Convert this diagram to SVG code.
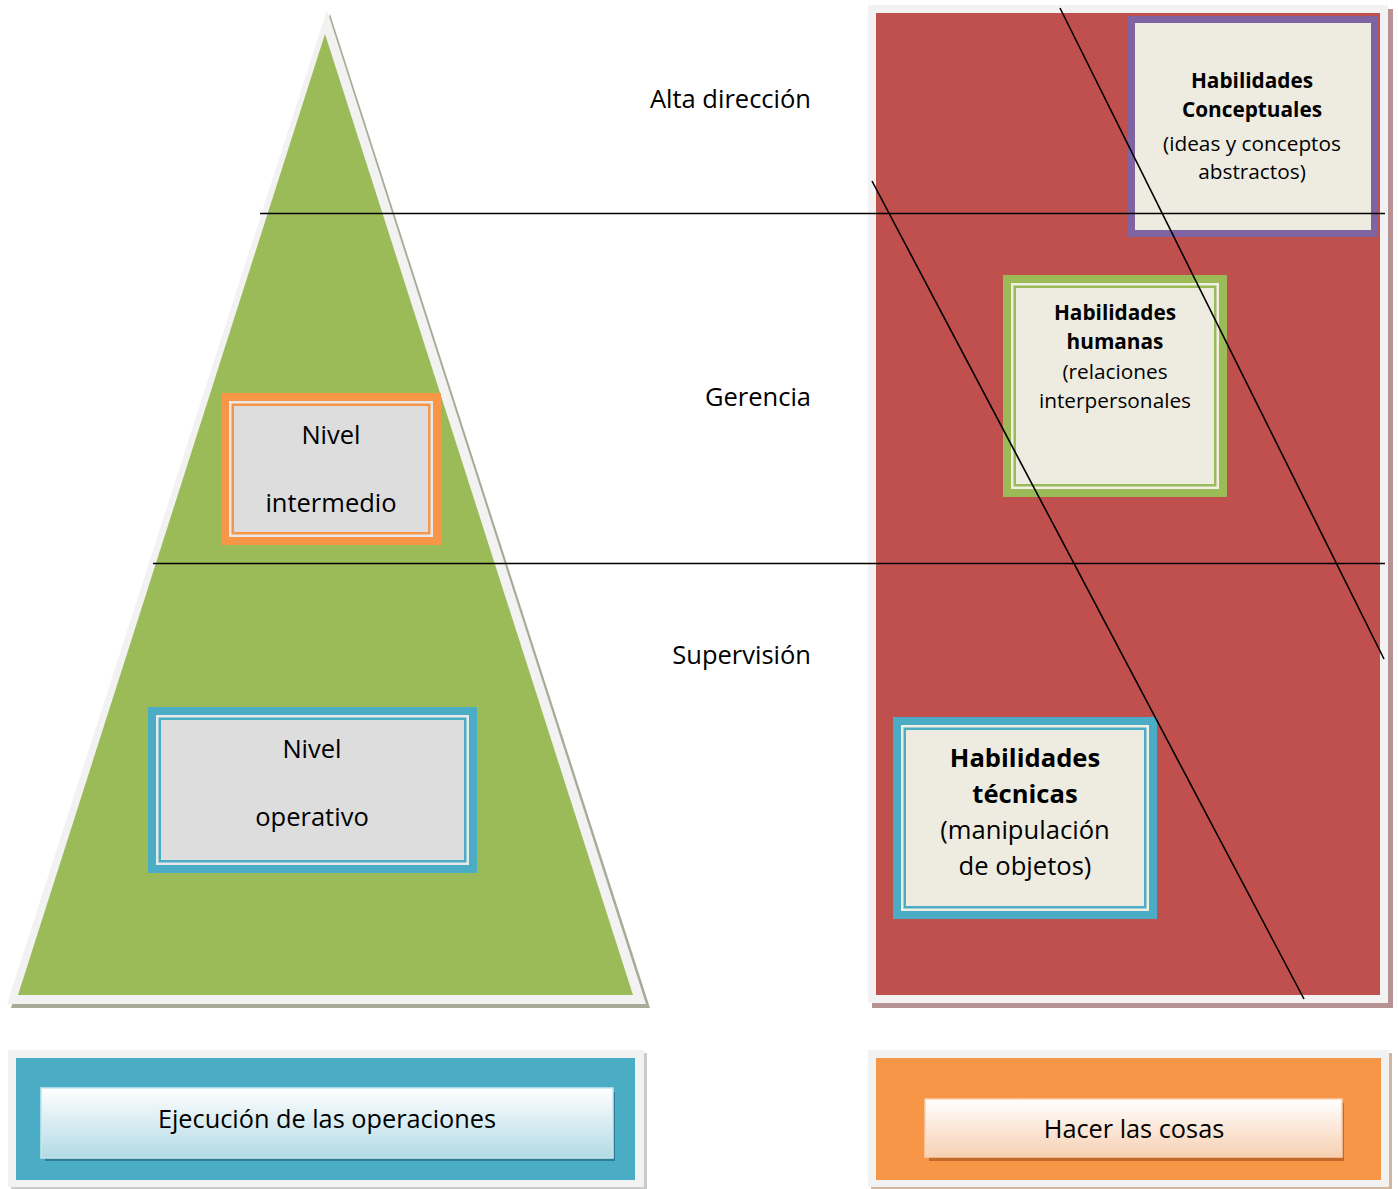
<svg xmlns="http://www.w3.org/2000/svg" width="1398" height="1189" viewBox="0 0 1398 1189">
  <defs>
    <style>
      text { font-family: "Open Sans", "Liberation Sans", sans-serif; fill: #000; text-anchor: middle; }
      .level { font-size: 25.5px; text-anchor: end; }
      .lvl-box { font-size: 25.5px; }
      .skill-sm { font-size: 20.8px; }
      .skill-lg { font-size: 25.6px; }
      .bold { font-weight: bold; }
      .bar-label { font-size: 25.3px; }
      .rule { stroke: #000; stroke-width: 1.6; fill: none; }
    </style>
    <linearGradient id="barBlue" x1="0" y1="0" x2="0" y2="1">
      <stop offset="0" stop-color="#ffffff"/>
      <stop offset="1" stop-color="#b2dae5"/>
    </linearGradient>
    <linearGradient id="barOrange" x1="0" y1="0" x2="0" y2="1">
      <stop offset="0" stop-color="#ffffff"/>
      <stop offset="1" stop-color="#f7d0b2"/>
    </linearGradient>
  </defs>

  <rect width="1398" height="1189" fill="#ffffff"/>

  <!-- pyramid of levels -->
  <g id="pyramid">
    <polygon points="11,1008 650,1008 330,14" fill="#a7ab98"/>
    <polygon points="7,1004 646,1004 327,10" fill="#f2f2f2"/>
    <polygon points="18,995 633,995 325,34" fill="#9bbb59"/>
  </g>

  <!-- skills panel -->
  <g id="skills-panel">
    <rect x="872" y="9" width="521" height="999" fill="#b79292"/>
    <rect x="868" y="5" width="520" height="998" fill="#f2f2f2"/>
    <rect x="876" y="13" width="504" height="982" fill="#c0504d"/>
  </g>

  <!-- level boxes inside the pyramid -->
  <g id="nivel-intermedio">
    <rect x="221" y="393" width="220" height="152" fill="#f79646"/>
    <rect x="229" y="401" width="204" height="136" fill="#e8e8e8"/>
    <rect x="231.5" y="403.5" width="199" height="131" fill="#f79646"/>
    <rect x="234" y="406" width="194" height="126" fill="#dddddd"/>
    <text class="lvl-box" x="331" y="444">Nivel</text>
    <text class="lvl-box" x="331" y="512">intermedio</text>
  </g>

  <g id="nivel-operativo">
    <rect x="148" y="707" width="329" height="166" fill="#4bacc6"/>
    <rect x="156" y="715" width="313" height="150" fill="#e8e8e8"/>
    <rect x="158.5" y="717.5" width="308" height="145" fill="#4bacc6"/>
    <rect x="161" y="720" width="303" height="140" fill="#dddddd"/>
    <text class="lvl-box" x="312" y="758">Nivel</text>
    <text class="lvl-box" x="312" y="826">operativo</text>
  </g>

  <!-- skill boxes -->
  <g id="habilidades-conceptuales">
    <rect x="1128" y="16" width="250" height="221" fill="#8064a2"/>
    <rect x="1135" y="23" width="236" height="207" fill="#eeece1"/>
    <text class="skill-sm bold" x="1252" y="88">Habilidades</text>
    <text class="skill-sm bold" x="1252" y="117">Conceptuales</text>
    <text class="skill-sm" x="1252" y="151">(ideas y conceptos</text>
    <text class="skill-sm" x="1252" y="179">abstractos)</text>
  </g>

  <g id="habilidades-humanas">
    <rect x="1003" y="275" width="224" height="222" fill="#9bbb59"/>
    <rect x="1011" y="283" width="208" height="206" fill="#f0efe4"/>
    <rect x="1013.5" y="285.5" width="203" height="201" fill="#9bbb59"/>
    <rect x="1016" y="288" width="198" height="196" fill="#eeece1"/>
    <text class="skill-sm bold" x="1115" y="320">Habilidades</text>
    <text class="skill-sm bold" x="1115" y="349">humanas</text>
    <text class="skill-sm" x="1115" y="379">(relaciones</text>
    <text class="skill-sm" x="1115" y="408">interpersonales</text>
  </g>

  <g id="habilidades-tecnicas">
    <rect x="893" y="717" width="264" height="202" fill="#4bacc6"/>
    <rect x="901" y="725" width="248" height="186" fill="#f0efe4"/>
    <rect x="903.5" y="727.5" width="243" height="181" fill="#4bacc6"/>
    <rect x="906" y="730" width="238" height="176" fill="#eeece1"/>
    <text class="skill-lg bold" x="1025" y="767">Habilidades</text>
    <text class="skill-lg bold" x="1025" y="803">técnicas</text>
    <text class="skill-lg" x="1025" y="839">(manipulación</text>
    <text class="skill-lg" x="1025" y="875">de objetos)</text>
  </g>

  <!-- level names -->
  <g id="level-names">
    <text class="level" x="811" y="108">Alta dirección</text>
    <text class="level" x="811" y="406">Gerencia</text>
    <text class="level" x="811" y="664">Supervisión</text>
  </g>

  <!-- dividing and diagonal lines -->
  <g id="connectors">
    <line class="rule" x1="260" y1="213.5" x2="1385" y2="213.5"/>
    <line class="rule" x1="153" y1="563.5" x2="1385" y2="563.5"/>
    <line class="rule" x1="1060" y1="8" x2="1384" y2="659"/>
    <line class="rule" x1="872" y1="181" x2="1304" y2="999"/>
  </g>

  <!-- bottom banners -->
  <g id="ejecucion">
    <rect x="11" y="1053" width="636" height="137" fill="#c9ccc9"/>
    <rect x="8" y="1050" width="636" height="137" fill="#f2f2f2"/>
    <rect x="16" y="1058" width="619" height="122" fill="#4bacc6"/>
    <rect x="45" y="1092" width="570" height="69" fill="#2f7e93"/>
    <rect x="41" y="1088" width="572" height="70" fill="url(#barBlue)" stroke="#c6e6ef" stroke-width="1.5"/>
    <text class="bar-label" x="327" y="1128">Ejecución de las operaciones</text>
  </g>

  <g id="hacer-las-cosas">
    <rect x="871" y="1053" width="521" height="137" fill="#d2b7a0"/>
    <rect x="868" y="1050" width="521" height="137" fill="#f2f2f2"/>
    <rect x="876" y="1058" width="505" height="122" fill="#f79646"/>
    <rect x="929" y="1103" width="415" height="58" fill="#c4692c"/>
    <rect x="925" y="1099" width="417" height="58" fill="url(#barOrange)" stroke="#fbd0ac" stroke-width="1.5"/>
    <text class="bar-label" x="1134" y="1138">Hacer las cosas</text>
  </g>
</svg>
